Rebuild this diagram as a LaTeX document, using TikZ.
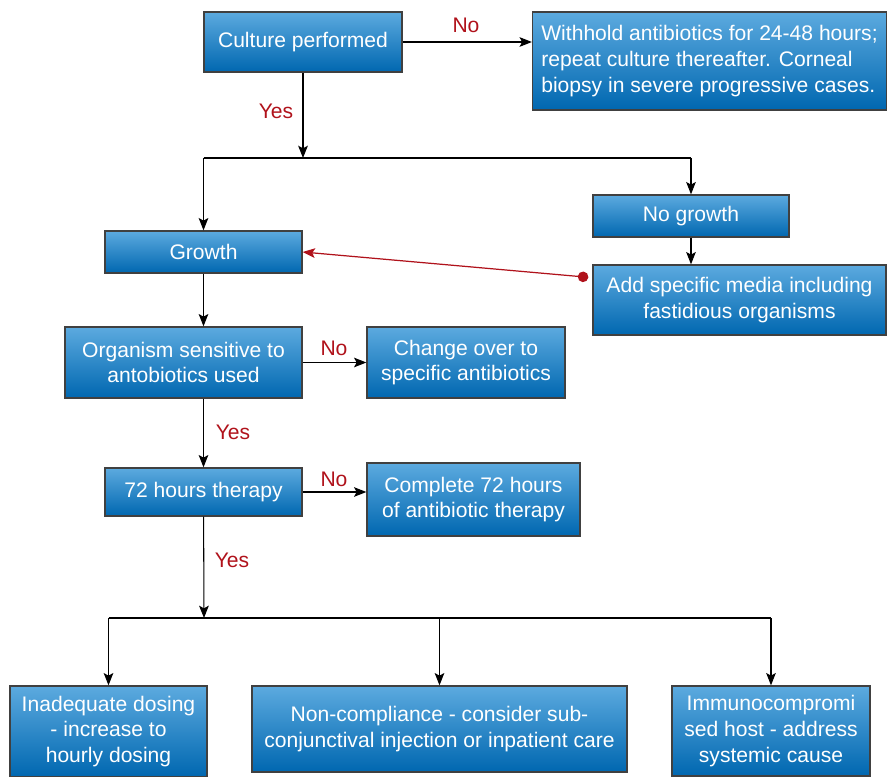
\documentclass[tikz,border=0pt]{standalone}
\usepackage{fontspec}
\setmainfont{Liberation Sans}
\usetikzlibrary{arrows.meta,calc}
\definecolor{boxtop}{HTML}{5CAADF}
\definecolor{boxbot}{HTML}{0067B0}
\definecolor{labred}{HTML}{B0121B}

\begin{document}
\begin{tikzpicture}[x=0.02cm, y=-0.02cm,
    box/.style={draw=black!75, line width=0.8pt, top color=boxtop, bottom color=boxbot,
        text=white, font=\fontsize{12}{14.7}\selectfont, align=center, inner sep=0pt},
    lab/.style={text=labred, font=\fontsize{12}{14}\selectfont},
    arr/.style={-{Stealth[length=7pt,width=5.5pt,inset=1.5pt]}, line width=0.6pt},
    redarr/.style={{Circle[length=6pt]}-{Stealth[length=7pt,width=5.5pt,inset=1.5pt]}, labred, line width=0.7pt}]
    \useasboundingbox (0,0) rectangle (887,777);
    % top row
    \node[box, minimum width=3.96cm, minimum height=1.2cm] (cult) at (303,42) {Culture performed};
    \node[box, minimum width=7.08cm, minimum height=1.96cm, align=left] (hold) at (709.5,61)
        {Withhold antibiotics for 24-48 hours;\\repeat culture thereafter. Corneal\\biopsy in severe progressive cases.};
    % growth / no growth
    \node[box, minimum width=3.92cm, minimum height=0.84cm] (nogrow) at (691,216) {No growth};
    \node[box, minimum width=3.94cm, minimum height=0.84cm] (grow) at (203.5,252) {Growth};
    \node[box, minimum width=5.86cm, minimum height=1.4cm] (media) at (739.5,300)
        {Add specific media including\\fastidious organisms};
    % sensitivity
    \node[box, minimum width=4.74cm, minimum height=1.42cm] (sens) at (183.5,362.5)
        {Organism sensitive to\\antobiotics used};
    \node[box, minimum width=3.96cm, minimum height=1.42cm] (change) at (466,362.5)
        {Change over to\\specific antibiotics};
    % therapy
    \node[box, minimum width=3.94cm, minimum height=0.96cm] (hours) at (203.5,492) {72 hours therapy};
    \node[box, minimum width=4.26cm, minimum height=1.46cm] (compl) at (473.5,499.5)
        {Complete 72 hours\\of antibiotic therapy};
    % bottom row
    \node[box, minimum width=3.94cm, minimum height=1.82cm] (inad) at (108.5,731.5)
        {Inadequate dosing\\- increase to\\hourly dosing};
    \node[box, minimum width=7.5cm, minimum height=1.72cm] (noncomp) at (439.5,729)
        {Non-compliance - consider sub-\\conjunctival injection or inpatient care};
    \node[box, minimum width=3.96cm, minimum height=1.8cm] (immuno) at (771,731)
        {Immunocompromi\\sed host - address\\systemic cause};
    % labels
    \node[lab] (no1) at (466,25) {No};
    \node[lab] (yes1) at (276,111) {Yes};
    \node[lab] (no2) at (334,348) {No};
    \node[lab] (yes2) at (233,432) {Yes};
    \node[lab] (no3) at (334,479) {No};
    \node[lab] (yes3) at (232,560) {Yes};
    % connectors
    \coordinate (split1) at (303,158);
    \coordinate (split2) at (204,618);
    \draw[arr] (cult.east) -- (cult.east -| hold.west);
    \draw[arr] (cult) -- (split1);
    \draw[line width=0.6pt] (grow.north |- split1) -- (nogrow.north |- split1);
    \draw[arr] (grow.north |- split1) -- (grow);
    \draw[arr] (nogrow.north |- split1) -- (nogrow);
    \draw[arr] (nogrow.south) -- (nogrow.south |- media.north);
    \coordinate (dot) at ($(media.north west)+(-4,13)$);
    \draw[redarr] (dot) -- (grow.east);
    \draw[arr] (grow.south) -- (grow.south |- sens.north);
    \draw[arr] (sens.east) -- (change.west);
    \draw[arr] (hours.north |- sens.south) -- (hours.north);
    \draw[arr] (hours.east) -- (hours.east -| compl.west);
    \draw[arr] (hours) -- (split2);
    \draw[line width=0.6pt] (inad.north |- split2) -- (immuno.north |- split2);
    \draw[arr] (inad.north |- split2) -- (inad);
    \draw[arr] (noncomp.north |- split2) -- (noncomp);
    \draw[arr] (immuno.north |- split2) -- (immuno);
\end{tikzpicture}
\end{document}
